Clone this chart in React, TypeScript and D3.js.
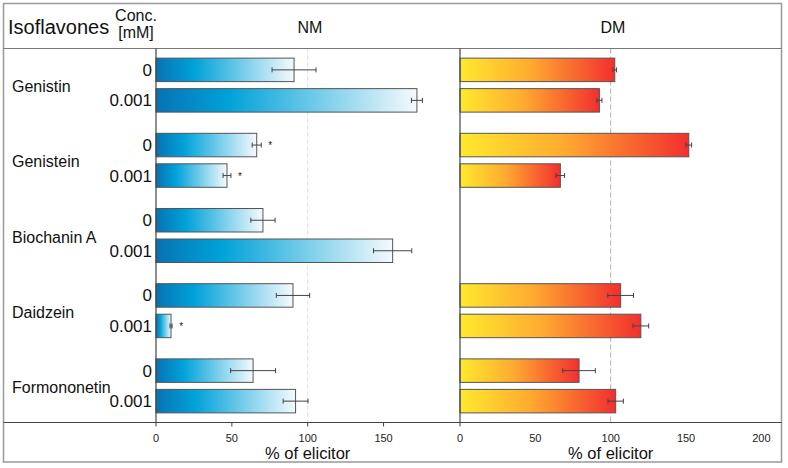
import React from 'react';
import * as d3 from 'd3';

const compounds = ['Genistin', 'Genistein', 'Biochanin A', 'Daidzein', 'Formononetin'];
const concs = ['0', '0.001'];

// NM panel: value, SEM, significance
const nmValues = [[91, 172], [66.4, 46.8], [70.5, 156], [90.3, 9.9], [64, 92]];
const nmErrors = [[14.5, 3.6], [3, 2.6], [8, 12.6], [11, 0.7], [14.8, 8.2]];
const nmStars = [[false, false], [true, true], [false, false], [false, true], [false, false]];

// DM panel (no Biochanin A data)
const dmValues = [[102.7, 92.5], [151.8, 66.6], [null, null], [106.6, 120], [79, 103.3]];
const dmErrors = [[1.2, 1.7], [1.9, 2.8], [null, null], [8.5, 5.2], [10.8, 5.1]];

const xTicks = [0, 50, 100, 150];
const xTicksDm = [0, 50, 100, 150, 200];

const W = 788;
const H = 468;
const font = '"Liberation Sans", Arial, Helvetica, sans-serif';

const top = 48.5;
const bottom = 422.5;
const left = 3.5;
const right = 781.5;

const xNM = d3.scaleLinear().domain([0, 200]).range([156, 459.4]);
const xDM = d3.scaleLinear().domain([0, 213]).range([460, 781]);

const yGroup = d3.scaleBand<string>().domain(compounds).range([top, bottom]).paddingInner(0.282).paddingOuter(0.128);
const ySub = d3.scaleBand<string>().domain(concs).range([0, yGroup.bandwidth()]).paddingInner(0.23);

type Panel = {
  x: d3.ScaleLinear<number, number>;
  values: (number | null)[][];
  errors: (number | null)[][];
  stars?: boolean[][];
  fill: string;
};

const panels: Panel[] = [
  { x: xNM, values: nmValues, errors: nmErrors, stars: nmStars, fill: 'url(#gradNM)' },
  { x: xDM, values: dmValues, errors: dmErrors, fill: 'url(#gradDM)' },
];

const Bars = ({ p }: { p: Panel }) => (
  <g>
    {compounds.map((c, i) =>
      concs.map((k, j) => {
        const v = p.values[i][j];
        if (v == null) return null;
        const e = p.errors[i][j] ?? 0;
        const y = (yGroup(c) ?? 0) + (ySub(k) ?? 0);
        const h = ySub.bandwidth();
        const cy = y + h / 2;
        const x0 = p.x(0);
        const xv = p.x(v);
        const xl = p.x(v - e);
        const xr = p.x(v + e);
        return (
          <g key={c + k}>
            <rect x={x0} y={y} width={xv - x0} height={h} fill={p.fill} stroke="#555" strokeWidth={1} />
            <line x1={xl} x2={xr} y1={cy} y2={cy} stroke="#444" strokeWidth={1} />
            <line x1={xl} x2={xl} y1={cy - 2.5} y2={cy + 2.5} stroke="#444" strokeWidth={1} />
            <line x1={xr} x2={xr} y1={cy - 2.5} y2={cy + 2.5} stroke="#444" strokeWidth={1} />
            {p.stars && p.stars[i][j] && (
              <text x={xr + 9} y={cy + 4} fontSize={10} textAnchor="middle" fill="#222">*</text>
            )}
          </g>
        );
      }),
    )}
  </g>
);

const App = () => {
  return (
    <div style={{ position: 'absolute', left: 0, top: 0 }}>
      <svg width={W} height={H} fontFamily={font}>
        <defs>
          <linearGradient id="gradNM" x1="0" x2="1" y1="0" y2="0">
            <stop offset="0" stopColor="#0673b3" />
            <stop offset="0.28" stopColor="#00a2d9" />
            <stop offset="1" stopColor="#f5fafd" />
          </linearGradient>
          <linearGradient id="gradDM" x1="0" x2="1" y1="0" y2="0">
            <stop offset="0" stopColor="#ffe92e" />
            <stop offset="0.45" stopColor="#ffab30" />
            <stop offset="1" stopColor="#f22f2f" />
          </linearGradient>
        </defs>
        <rect x={0} y={0} width={W} height={H} fill="#fff" />

        {/* reference lines at 100 % */}
        <line x1={xNM(100)} x2={xNM(100)} y1={top} y2={bottom} stroke="#ddd" strokeDasharray="4,3" />
        <line x1={xDM(100)} x2={xDM(100)} y1={top} y2={bottom} stroke="#aaa" strokeDasharray="5,3" />

        <Bars p={panels[0]} />
        <Bars p={panels[1]} />

        {/* frame */}
        <rect x={left} y={3.5} width={right - left} height={462 - 3.5} fill="none" stroke="#999" strokeWidth={1.5} />
        <line x1={left} x2={right} y1={top} y2={top} stroke="#777" strokeWidth={1} />
        <line x1={left} x2={right} y1={bottom} y2={bottom} stroke="#444" strokeWidth={1.2} />
        <line x1={xNM(0)} x2={xNM(0)} y1={top} y2={bottom} stroke="#444" strokeWidth={1.2} />
        <line x1={xDM(0)} x2={xDM(0)} y1={top} y2={bottom} stroke="#444" strokeWidth={1.2} />

        {/* header */}
        <text x={8} y={34} fontSize={20} fill="#111">Isoflavones</text>
        <text x={136} y={21} fontSize={16} textAnchor="middle" fill="#111">Conc.</text>
        <text x={136} y={38} fontSize={16} textAnchor="middle" fill="#111">[mM]</text>
        <text x={310} y={33} fontSize={16} textAnchor="middle" fill="#111">NM</text>
        <text x={613} y={33} fontSize={16} textAnchor="middle" fill="#111">DM</text>

        {/* row labels */}
        {compounds.map((c) => (
          <g key={c}>
            <text x={12} y={(yGroup(c) ?? 0) + yGroup.bandwidth() / 2 + 7} fontSize={16} fill="#111">{c}</text>
            {concs.map((k) => (
              <text
                key={k}
                x={152}
                y={(yGroup(c) ?? 0) + (ySub(k) ?? 0) + ySub.bandwidth() / 2 + 6}
                fontSize={17}
                textAnchor="end"
                fill="#111"
              >
                {k}
              </text>
            ))}
          </g>
        ))}

        {/* x axes (tick marks only on the NM axis and the DM origin) */}
        {[{ x: xNM, t: xTicks, marks: true }, { x: xDM, t: xTicksDm, marks: false }].map(({ x, t, marks }, a) => (
          <g key={a}>
            {t.map((v) => (
              <g key={v} transform={`translate(${x(v)},${bottom})`}>
                {(marks || v === 0) && <line y1={0} y2={4} stroke="#444" />}
                <text y={19} fontSize={11} textAnchor="middle" fill="#222">{v}</text>
              </g>
            ))}
            <text x={x(100)} y={459} fontSize={16.5} textAnchor="middle" fill="#111">% of elicitor</text>
          </g>
        ))}
      </svg>
    </div>
  );
};

export default App;
